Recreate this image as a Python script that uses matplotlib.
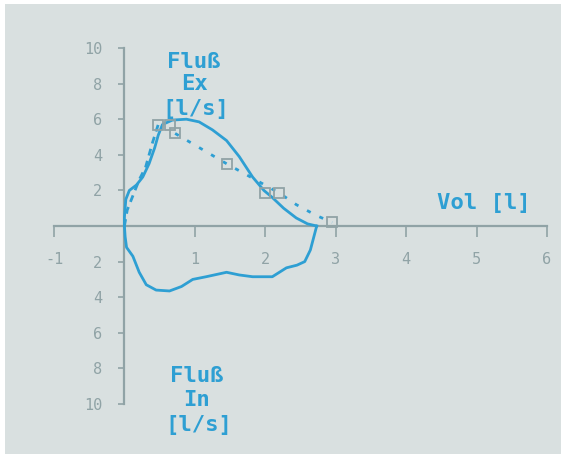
import matplotlib
matplotlib.use("Agg")
import matplotlib.pyplot as plt
from matplotlib.patches import Rectangle
from matplotlib.ticker import FuncFormatter

plt.rcParams["axes.unicode_minus"] = False

# measured flow-volume loop, expiration (upper part)
ex_vol = [0, 0.0, 0.02, 0.07, 0.17, 0.26, 0.35, 0.43, 0.48, 0.54, 0.68, 0.88, 1.06, 1.25, 1.45, 1.63,
          1.82, 1.98, 2.1, 2.26, 2.44, 2.6, 2.73]
ex_flow = [0, 0.5, 1.5, 2.0, 2.3, 2.75, 3.5, 4.4, 5.1, 5.7, 5.95, 6.0, 5.85, 5.4, 4.8, 3.9,
           2.75, 2.0, 1.6, 1.0, 0.45, 0.12, 0]

# inspiration (lower part)
in_vol = [0, 0.01, 0.03, 0.12, 0.21, 0.31, 0.45, 0.64, 0.81, 0.97, 1.16, 1.45, 1.63, 1.82, 2.1,
          2.3, 2.45, 2.56, 2.64, 2.69, 2.73]
in_flow = [0, -0.6, -1.2, -1.7, -2.6, -3.3, -3.6, -3.65, -3.4, -3.0, -2.85, -2.6, -2.75, -2.85, -2.85,
           -2.35, -2.2, -2.0, -1.35, -0.6, 0]

# predicted curve: dashed rise, dotted descent
pred_rise_vol = [0, 0.04, 0.1, 0.21, 0.3, 0.4, 0.48]
pred_rise_flow = [0, 0.9, 1.5, 2.6, 3.3, 4.7, 5.7]
pred_fall_vol = [0.72, 1.45, 2.2, 2.44, 2.72, 2.95]
pred_fall_flow = [5.2, 3.5, 1.85, 1.2, 0.6, 0.2]

# predicted reference markers
mark_vol = [0.48, 0.65, 0.72, 1.45, 1.99, 2.2, 2.95]
mark_flow = [5.7, 5.7, 5.2, 3.5, 1.85, 1.85, 0.2]

xticks = [-1, 1, 2, 3, 4, 5, 6]
yticks = [-10, -8, -6, -4, -2, 2, 4, 6, 8, 10]

blue = "#2e9fd3"
grey = "#90a3a6"
paper = "#d9e0e0"
mono = "DejaVu Sans Mono"

W, H = 561, 457
fig = plt.figure(figsize=(W / 100, H / 100), dpi=100, facecolor="white")
fig.patches.append(Rectangle((5 / W, 3 / H), 1 - 5 / W, 1 - 7 / H, transform=fig.transFigure,
                             facecolor=paper, edgecolor="none", zorder=-1))

ax = fig.add_axes([54 / W, 53 / H, 493 / W, 356 / H])
ax.set_facecolor("none")
ax.set_xlim(-1, 6)
ax.set_ylim(-10, 10)

for side in ["top", "right"]:
    ax.spines[side].set_visible(False)
ax.spines["left"].set_position(("data", 0))
ax.spines["bottom"].set_position(("data", 0))
for side in ["left", "bottom"]:
    ax.spines[side].set_color(grey)
    ax.spines[side].set_linewidth(1.6)

ax.set_xticks(xticks)
ax.set_yticks(yticks)
ax.yaxis.set_major_formatter(FuncFormatter(lambda v, p: "%d" % abs(v)))
ax.tick_params(axis="x", direction="out", length=8, width=1.2, color=grey, pad=11,
               labelcolor=grey, labelsize=11)
ax.tick_params(axis="y", direction="out", length=4, width=1.2, color=grey, pad=12,
               labelcolor=grey, labelsize=11)
for lab in ax.get_xticklabels() + ax.get_yticklabels():
    lab.set_family(mono)

# curves
ax.plot(ex_vol, ex_flow, color=blue, lw=2.0, zorder=3)
ax.plot(in_vol, in_flow, color=blue, lw=2.0, zorder=3)
ax.plot(pred_rise_vol, pred_rise_flow, color=blue, lw=2.0, dashes=(2.5, 2), zorder=2)
ax.plot(pred_fall_vol, pred_fall_flow, color=blue, lw=2.0, dashes=(1.5, 3.5), zorder=2)
ax.plot(mark_vol, mark_flow, ls="none", marker="s", ms=7, mfc="none", mec=grey, mew=1.3, zorder=4)

# axis titles
kw = dict(color=blue, fontsize=16, fontweight="bold", family=mono, ha="center", va="center")
ax.text(0.99, 9.2, "Fluß", **kw)
ax.text(0.99, 7.95, "Ex", **kw)
ax.text(1.02, 6.55, "[l/s]", **kw)
ax.text(5.1, 1.3, "Vol [l]", **kw)
ax.text(1.02, -8.4, "Fluß", **kw)
ax.text(1.02, -9.8, "In", **kw)
ax.text(1.05, -11.2, "[l/s]", clip_on=False, **kw)

fig.savefig("out.png", dpi=100, facecolor=fig.get_facecolor())
